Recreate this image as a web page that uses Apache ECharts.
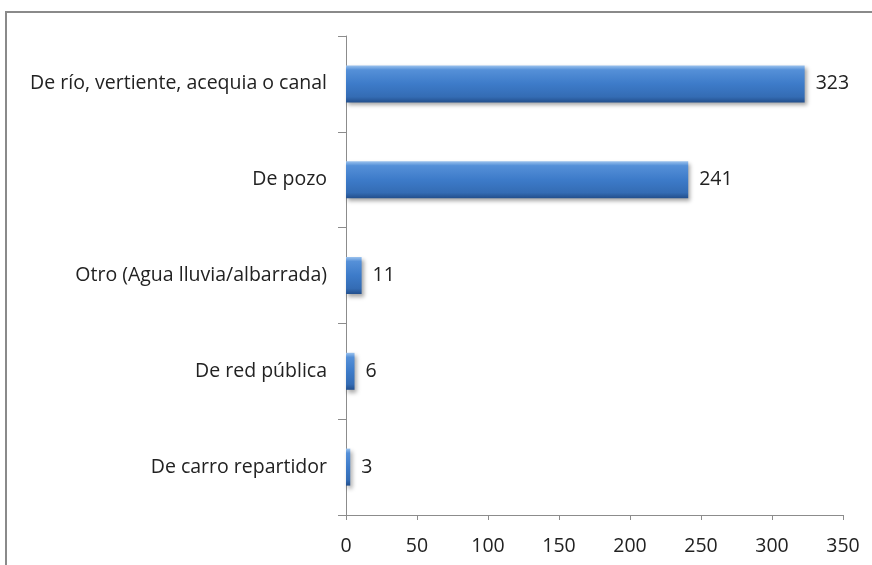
<!DOCTYPE html>
<html>
<head>
<meta charset="utf-8">
<script src="https://cdn.jsdelivr.net/npm/echarts@6/dist/echarts.min.js"></script>
<style>
  html, body { margin: 0; padding: 0; background: #fff; }
  #chart { width: 872px; height: 565px; }
</style>
</head>
<body>
<div id="chart"></div>
<script>
// datos
var categorias = ['De río, vertiente, acequia o canal', 'De pozo', 'Otro (Agua lluvia/albarrada)', 'De red pública', 'De carro repartidor'];
var valores = [323, 241, 11, 6, 3];
var ejeX = { min: 0, max: 350, paso: 50 };

var chart = echarts.init(document.getElementById('chart'));
var fuente = 'Open Sans';
var tam = 19.5;

chart.setOption({
  animation: false,
  backgroundColor: '#fff',
  graphic: [{
    type: 'rect',
    shape: { x: 6, y: 12, width: 900, height: 600 },
    style: { fill: 'none', stroke: '#8a8a8a', lineWidth: 2 },
    silent: true
  }],
  grid: { left: 346, right: 29, top: 36, bottom: 50 },
  xAxis: {
    type: 'value',
    min: ejeX.min,
    max: ejeX.max,
    interval: ejeX.paso,
    axisLine: { show: true, lineStyle: { color: '#8c8c8c', width: 1 } },
    axisTick: { show: true, length: 5, lineStyle: { color: '#8c8c8c' } },
    splitLine: { show: false },
    axisLabel: { color: '#222', fontFamily: fuente, fontSize: tam, margin: 21 }
  },
  yAxis: {
    type: 'category',
    inverse: true,
    data: categorias,
    axisLine: { show: true, lineStyle: { color: '#8c8c8c', width: 1 } },
    axisTick: { show: true, length: 8, alignWithLabel: false, lineStyle: { color: '#8c8c8c' } },
    axisLabel: { color: '#222', fontFamily: fuente, fontSize: tam, margin: 19 }
  },
  series: [{
    type: 'bar',
    data: valores,
    barWidth: 37,
    itemStyle: {
      color: new echarts.graphic.LinearGradient(0, 0, 0, 1, [
        { offset: 0, color: '#9cc3ee' },
        { offset: 0.12, color: '#5590d8' },
        { offset: 0.5, color: '#3d7bc9' },
        { offset: 0.85, color: '#346cb4' },
        { offset: 1, color: '#234f8c' }
      ]),
      shadowColor: 'rgba(0,0,0,0.35)',
      shadowBlur: 4,
      shadowOffsetX: 2,
      shadowOffsetY: 3
    },
    label: {
      show: true,
      position: 'right',
      distance: 11,
      color: '#222',
      fontFamily: fuente,
      fontSize: tam
    }
  }]
});
</script>
</body>
</html>
